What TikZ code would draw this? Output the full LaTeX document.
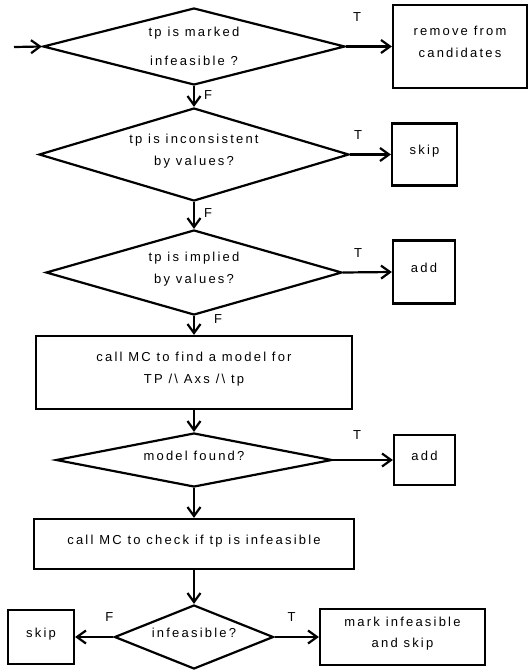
\documentclass[tikz,border=0pt]{standalone}
\usepackage{fontspec}
\setmainfont{Liberation Sans}[LetterSpace=17]
\usetikzlibrary{shapes.geometric,arrows.meta}
\begin{document}
\begin{tikzpicture}[x=1pt,y=-1pt,
  every node/.style={font=\fontsize{13}{21.5}\selectfont},
  dia/.style={draw, line width=2.2pt, shape=diamond, align=center, inner sep=-40pt, text height=9pt, text depth=9pt},
  box/.style={draw, line width=2.2pt, rectangle, align=center, inner sep=2pt, text height=9pt, text depth=9pt},
  two/.style={text height=30.5pt, text depth=9pt},
  tf/.style={inner sep=0pt, text height=, text depth=},
  arr/.style={line width=2.2pt, -{Straight Barb[length=9pt,width=13pt]}}]
\useasboundingbox (0,0) rectangle (529,670);

\node[dia, minimum width=302pt, minimum height=77pt, text height=38pt, text depth=0pt] (d1) at (194,46.5) {tp is marked\\[7.5pt]infeasible ?};
\node[box, two, minimum width=134pt, minimum height=83pt] (r1) at (460,46.5) {remove from\\candidates};
\node[dia, two, minimum width=310pt, minimum height=93pt] (d2) at (194,154.5) {tp is inconsistent\\by values?};
\node[box, minimum width=65pt, minimum height=62pt] (s1) at (424.5,154.5) {skip};
\node[dia, two, minimum width=296pt, minimum height=85pt] (d3) at (194,272.5) {tp is implied\\by values?};
\node[box, minimum width=62pt, minimum height=63pt] (a1) at (424,272) {add};
\node[box, two, minimum width=316pt, minimum height=73pt] (p1) at (194,372.5) {call MC to find a model for\\TP /\textbackslash{} Axs /\textbackslash{} tp};
\node[dia, minimum width=276pt, minimum height=54pt] (d4) at (194,460) {model found?};
\node[box, minimum width=61pt, minimum height=50pt] (a2) at (424.5,460) {add};
\node[box, minimum width=320pt, minimum height=50pt] (p2) at (194,544) {call MC to check if tp is infeasible};
\node[dia, minimum width=159pt, minimum height=64pt] (d5) at (194,637) {infeasible?};
\node[box, minimum width=66pt, minimum height=54pt] (sk) at (41,637) {skip};
\node[box, two, minimum width=165pt, minimum height=56pt] (mk) at (402.5,637) {mark infeasible\\and skip};

\coordinate (start) at (14,47);
\draw[arr] (start) -- (d1.west);
\draw[arr] (d1.east) -- node[tf, pos=0, xshift=11pt, yshift=29pt] {T} (r1.west);
\draw[arr] (d1.south) -- node[tf, pos=0, xshift=14pt, yshift=-9pt] {F} (d2.north);
\draw[arr] (d2.east) -- node[tf, pos=0, xshift=8pt, yshift=19pt] {T} (s1.west);
\draw[arr] (d2.south) -- node[tf, pos=0, xshift=14pt, yshift=-11pt] {F} (d3.north);
\draw[arr] (d3.east) -- node[tf, pos=0, xshift=15pt, yshift=19pt] {T} (a1.west);
\draw[arr] (d3.south) -- node[tf, pos=0, xshift=24pt, yshift=-3pt] {F} (p1.north);
\draw[arr] (p1.south) -- (d4.north);
\draw[arr] (d4.east) -- node[tf, pos=0, xshift=24pt, yshift=25pt] {T} (a2.west);
\draw[arr] (d4.south) -- (p2.north);
\draw[arr] (p2.south) -- (d5.north);
\draw[arr] (d5.west) -- node[tf, pos=0, xshift=-4pt, yshift=20pt] {F} (sk.east);
\draw[arr] (d5.east) -- node[tf, pos=0, xshift=17pt, yshift=20pt] {T} (mk.west);
\end{tikzpicture}
\end{document}
